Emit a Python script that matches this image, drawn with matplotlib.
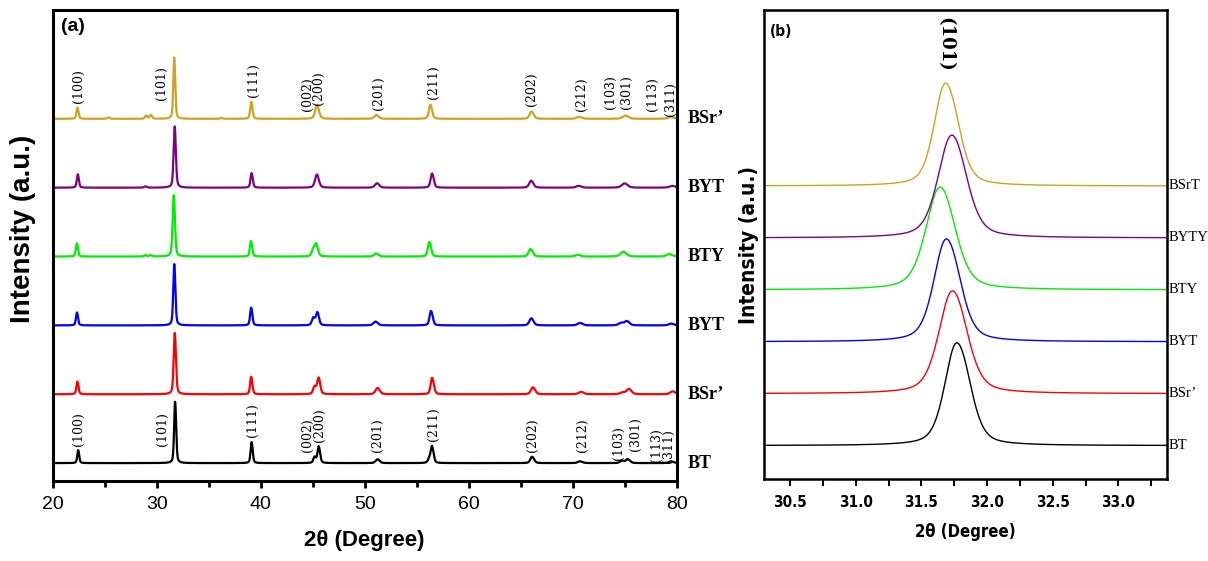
import numpy as np
import matplotlib
matplotlib.use("Agg")
import matplotlib.pyplot as plt
from matplotlib.ticker import MultipleLocator

# sample labels, bottom -> top (as they appear on the figure)
labels_a = ["BT", "BSr\u2019", "BYT", "BTY", "BYT", "BSr\u2019"]
labels_b = ["BT", "BSr\u2019", "BYT", "BTY", "BYTY", "BSrT"]
colors = ["black", "#ff0000", "#0000ff", "#00ee00", "#800080", "#d4a020"]

# peak tables: 2theta, relative intensity, FWHM
bt_pos = [22.44, 31.75, 39.10, 45.15, 45.55, 51.20, 56.20, 56.45, 66.05, 70.65, 74.70, 75.25, 79.40]
bt_int = [20, 100, 36, 10, 28, 6, 8, 28, 11, 3, 4, 7, 3]
bt_fwhm = [0.20, 0.20, 0.20, 0.25, 0.25, 0.40, 0.30, 0.25, 0.35, 0.45, 0.40, 0.35, 0.45]

bsr_pos = [22.36, 31.715, 39.06, 45.15, 45.54, 51.20, 56.45, 66.12, 70.75, 74.75, 75.35, 79.55]
bsr_int = [20, 100, 30, 12, 27, 10, 29, 12, 4, 3, 9, 5]
bsr_fwhm = [0.22, 0.23, 0.22, 0.30, 0.30, 0.45, 0.30, 0.40, 0.50, 0.50, 0.45, 0.50]

byt_pos = [22.32, 31.67, 39.06, 45.03, 45.42, 51.00, 56.34, 65.97, 70.65, 74.60, 75.16, 79.40]
byt_int = [20, 100, 30, 12, 21, 6, 25, 12, 4, 4, 7, 3]
byt_fwhm = [0.22, 0.21, 0.22, 0.30, 0.30, 0.45, 0.30, 0.40, 0.50, 0.50, 0.45, 0.50]

bty_pos = [22.31, 28.90, 29.40, 31.62, 39.04, 45.00, 45.30, 51.06, 56.18, 65.90, 70.44, 74.80, 79.20]
bty_int = [21, 2, 2, 100, 27, 10, 20, 5, 26, 13, 3, 8, 4]
bty_fwhm = [0.22, 0.30, 0.30, 0.24, 0.22, 0.30, 0.35, 0.45, 0.30, 0.40, 0.50, 0.60, 0.60]

byty_pos = [22.40, 28.90, 31.71, 39.10, 45.37, 51.15, 56.44, 65.96, 70.50, 74.93, 79.50]
byty_int = [21, 2, 100, 25, 21, 7, 25, 12, 3, 7, 3]
byty_fwhm = [0.22, 0.30, 0.23, 0.22, 0.40, 0.45, 0.30, 0.40, 0.50, 0.60, 0.60]

bsrt_pos = [22.37, 25.35, 28.97, 29.42, 31.665, 36.20, 39.07, 45.38, 51.09, 56.28, 66.00, 70.54, 75.00, 79.36]
bsrt_int = [17, 2, 5, 6, 100, 1, 28, 21, 6, 24, 12, 3, 5, 3]
bsrt_fwhm = [0.22, 0.30, 0.25, 0.25, 0.19, 0.30, 0.22, 0.40, 0.45, 0.30, 0.40, 0.50, 0.60, 0.60]

tables = [(bt_pos, bt_int, bt_fwhm), (bsr_pos, bsr_int, bsr_fwhm),
          (byt_pos, byt_int, byt_fwhm), (bty_pos, bty_int, bty_fwhm),
          (byty_pos, byty_int, byty_fwhm), (bsrt_pos, bsrt_int, bsrt_fwhm)]

# hkl labels (top set over BSrT, bottom set over BT)
hkl = ["(100)", "(101)", "(111)", "(002)", "(200)", "(201)", "(211)",
       "(202)", "(212)", "(103)", "(301)", "(113)", "(311)"]
hkl_x_top = [22.46, 30.50, 39.26, 44.50, 45.60, 51.30, 56.57, 66.06, 70.87, 73.65, 75.12, 77.69, 79.35]
hkl_y_top = [5.23, 5.27, 5.32, 5.11, 5.20, 5.13, 5.29, 5.18, 5.11, 5.15, 5.15, 5.11, 5.04]
hkl_x_bot = [22.51, 30.57, 39.17, 44.52, 45.62, 51.24, 56.62, 66.17, 70.96, 74.42, 76.07, 78.03, 79.20]
hkl_y_bot = [0.25, 0.25, 0.38, 0.16, 0.31, 0.16, 0.32, 0.16, 0.16, 0.04, 0.17, 0.02, 0.0]

LAM_RATIO = 1.544390 / 1.540562  # Cu Ka2 / Ka1


def pv(x, c, w, eta=0.45):
    t = (x - c) / w
    return eta / (1 + 4 * t ** 2) + (1 - eta) * np.exp(-4 * np.log(2) * t ** 2)


def pattern(x, pos, inten, fwhm):
    y = np.zeros_like(x)
    for c, a, w in zip(pos, inten, fwhm):
        c2 = 2 * np.degrees(np.arcsin(np.sin(np.radians(c / 2)) * LAM_RATIO))
        y += a * (pv(x, c, w) + 0.5 * pv(x, c2, w))
    return y


x_full = np.arange(20, 80.001, 0.01)
x_zoom = np.arange(30.3, 33.4, 0.003)

plt.rcParams["font.family"] = ["Liberation Sans", "DejaVu Sans"]

fig = plt.figure(figsize=(12.08, 5.61), dpi=100)
ax1 = fig.add_axes([0.0436, 0.1426, 0.5166, 0.8395])
ax2 = fig.add_axes([0.6325, 0.1456, 0.3336, 0.8366])

# ---- panel (a) ----
for i, (pos, inten, fwhm) in enumerate(tables):
    y = pattern(x_full, pos, inten, fwhm)
    ax1.plot(x_full, i + 0.89 * y / y.max(), color=colors[i], lw=1.6)
    ax1.text(1.017, i, labels_a[i], transform=ax1.get_yaxis_transform(),
             ha="left", va="center", fontsize=13, fontweight="bold",
             family="Liberation Serif", clip_on=False)

for t, xv, yv in zip(hkl, hkl_x_top, hkl_y_top):
    ax1.text(xv, yv, t, rotation=90, ha="center", va="bottom",
             fontsize=9, family="DejaVu Serif")
for t, xv, yv in zip(hkl, hkl_x_bot, hkl_y_bot):
    ax1.text(xv, yv, t, rotation=90, ha="center", va="bottom",
             fontsize=9, family="DejaVu Serif")

ax1.set_xlim(20, 80)
ax1.set_ylim(-0.26, 6.58)
ax1.set_yticks([])
ax1.xaxis.set_major_locator(MultipleLocator(10))
ax1.xaxis.set_minor_locator(MultipleLocator(5))
ax1.tick_params(axis="x", which="major", direction="out", length=5, width=2, labelsize=14, pad=6)
ax1.tick_params(axis="x", which="minor", direction="out", length=4, width=2)
for s in ax1.spines.values():
    s.set_linewidth(2.2)
ax1.set_xlabel("2\u03b8 (Degree)", fontsize=16, fontweight="bold", labelpad=12)
ax1.set_ylabel("Intensity (a.u.)", fontsize=20, fontweight="bold")
ax1.yaxis.set_label_coords(-0.026, 0.535)
ax1.text(0.013, 0.965, "(a)", transform=ax1.transAxes, fontsize=14,
         fontweight="bold", ha="left", va="center")

# ---- panel (b) ----
for i, (pos, inten, fwhm) in enumerate(tables):
    y = pattern(x_zoom, pos, inten, fwhm)
    ax2.plot(x_zoom, i + 1.98 * y / y.max(), color=colors[i], lw=1.0)
    ax2.text(1.005, i, labels_b[i], transform=ax2.get_yaxis_transform(),
             ha="left", va="center", fontsize=10.5,
             family="Liberation Serif", clip_on=False)

ax2.text(31.685, 8.25, "(101)", rotation=270, ha="center", va="top",
         fontsize=13, fontweight="bold", family="DejaVu Serif")
ax2.set_xlim(30.302, 33.371)
ax2.set_ylim(-0.65, 8.39)
ax2.set_yticks([])
ax2.xaxis.set_major_locator(MultipleLocator(0.5))
ax2.xaxis.set_minor_locator(MultipleLocator(0.25))
ax2.tick_params(axis="x", which="both", direction="out", length=5, width=1.5, labelsize=11, pad=6)
for lab in ax2.get_xticklabels():
    lab.set_fontweight("bold")
    lab.set_family("DejaVu Sans")
    lab.set_stretch("condensed")
for s in ax2.spines.values():
    s.set_linewidth(1.8)
ax2.set_xlabel("2\u03b8 (Degree)", fontsize=12, fontweight="bold", family="DejaVu Sans",
               stretch="condensed", labelpad=10)
ax2.set_ylabel("Intensity (a.u.)", fontsize=15, fontweight="bold", family="DejaVu Sans",
               stretch="condensed", labelpad=4)
ax2.text(0.015, 0.955, "(b)", transform=ax2.transAxes, fontsize=11,
         fontweight="bold", family="DejaVu Sans", stretch="condensed",
         ha="left", va="center")

fig.savefig("out.png", dpi=100)
